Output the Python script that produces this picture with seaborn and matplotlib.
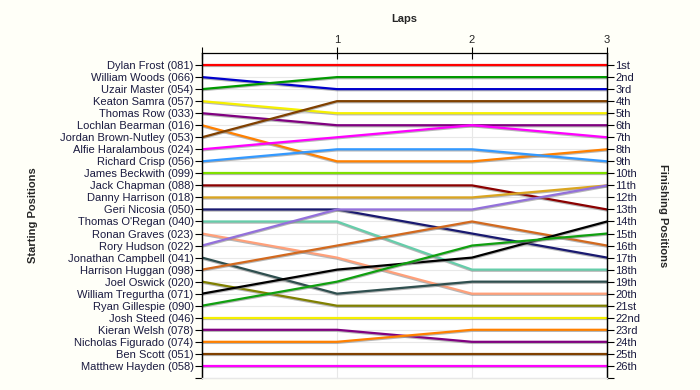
import pandas as pd
import numpy as np
import matplotlib
matplotlib.use("Agg")
import matplotlib.pyplot as plt
import matplotlib.patheffects as pe
import seaborn as sns

# drivers in starting order
drivers = ["Dylan Frost (081)", "William Woods (066)", "Uzair Master (054)",
           "Keaton Samra (057)", "Thomas Row (033)", "Lochlan Bearman (016)",
           "Jordan Brown-Nutley (053)", "Alfie Haralambous (024)", "Richard Crisp (056)",
           "James Beckwith (099)", "Jack Chapman (088)", "Danny Harrison (018)",
           "Geri Nicosia (050)", "Thomas O'Regan (040)", "Ronan Graves (023)",
           "Rory Hudson (022)", "Jonathan Campbell (041)", "Harrison Huggan (098)",
           "Joel Oswick (020)", "William Tregurtha (071)", "Ryan Gillespie (090)",
           "Josh Steed (046)", "Kieran Welsh (078)", "Nicholas Figurado (074)",
           "Ben Scott (051)", "Matthew Hayden (058)"]

laps = [0, 1, 2, 3]

# position of each driver at lap 0..3
positions = [
    [1, 1, 1, 1], [2, 3, 3, 3], [3, 2, 2, 2], [4, 5, 5, 5], [5, 6, 6, 6],
    [6, 9, 9, 8], [7, 4, 4, 4], [8, 7, 6, 7], [9, 8, 8, 9], [10, 10, 10, 10],
    [11, 11, 11, 13], [12, 12, 12, 11], [13, 13, 15, 17], [14, 14, 18, 18],
    [15, 17, 20, 20], [16, 13, 13, 11], [17, 20, 19, 19], [18, 16, 14, 16],
    [19, 21, 21, 21], [20, 18, 17, 14], [21, 19, 16, 15], [22, 22, 22, 22],
    [23, 23, 24, 24], [24, 24, 23, 23], [25, 25, 25, 25], [26, 26, 26, 26],
]

colors = ["#FF0000", "#0000CC", "#009900", "#F5F000", "#800080", "#FF8000",
          "#804000", "#FF00FF", "#3399FF", "#80E000", "#8B0000", "#DAA520",
          "#191970", "#66CDAA", "#FFA07A", "#9370DB", "#2F4F4F", "#D2691E",
          "#808000", "#000000", "#10A010", "#F5F000", "#800080", "#FF8000",
          "#804000", "#FF00FF"]

finish_labels = ["1st", "2nd", "3rd"] + [f"{i}th" for i in range(4, 21)] + \
                ["21st", "22nd", "23rd", "24th", "25th", "26th"]

rows = []
for d, pos in zip(drivers, positions):
    for lap, p in zip(laps, pos):
        rows.append({"driver": d, "lap": lap, "pos": p})
df = pd.DataFrame(rows)

sns.set_theme(style="white")
plt.rcParams['font.family'] = ['Liberation Sans', 'DejaVu Sans']

fig = plt.figure(figsize=(7, 3.9), dpi=100, facecolor="#FFFFF8")
ax = fig.add_axes([0.2886, 0.031, 0.5786, 0.833])
ax.set_facecolor("white")

# grid
for p in range(1, 27):
    ax.axhline(p, color="#E8E8E8", lw=0.8, zorder=0)
for lap in laps[1:3]:
    ax.axvline(lap, color="#E8E8E8", lw=0.8, zorder=0)

sns.lineplot(data=df, x="lap", y="pos", hue="driver", hue_order=drivers,
             palette=dict(zip(drivers, colors)), legend=False, linewidth=1.6,
             sort=False, estimator=None, ax=ax)
for ln in ax.get_lines()[-len(drivers):]:
    ln.set_path_effects([pe.SimpleLineShadow(offset=(0, -0.8), shadow_color="#888888", alpha=0.6),
                         pe.Normal()])

ax.set_xlim(0, 3)
ax.set_ylim(27, 0)

# left: starting positions
ax.set_yticks(range(1, 27))
ax.set_yticklabels(drivers, fontsize=8, color="#1a1a40")
ax.set_yticks([27], minor=True)
ax.tick_params(axis="y", which="both", direction="out", length=5, width=0.8,
               color="black", pad=1, left=True)
ax.set_ylabel("Starting Positions", fontsize=8, fontweight="bold", labelpad=16)

# right: finishing positions
ax2 = ax.twinx()
ax2.set_ylim(27, 0)
ax2.set_yticks(range(1, 27))
ax2.set_yticklabels(finish_labels, fontsize=8, color="#1a1a40")
ax2.set_yticks([27], minor=True)
ax2.tick_params(axis="y", which="both", direction="out", length=5, width=0.8,
                color="black", pad=1, right=True)
ax2.set_ylabel("Finishing Positions", fontsize=8, fontweight="bold",
               rotation=270, labelpad=20)

# top: laps
ax.xaxis.tick_top()
ax.xaxis.set_label_position("top")
ax.set_xticks(laps)
ax.set_xticklabels([""] + [str(l) for l in laps[1:]], fontsize=8)
ax.tick_params(axis="x", direction="inout", length=8, width=0.8, color="black", pad=2, top=True)
ax.set_xlabel("Laps", fontsize=8, fontweight="bold", labelpad=9)

for a in (ax, ax2):
    a.spines["bottom"].set_color("#E8E8E8")
    a.spines["left"].set_color("black")
    a.spines["right"].set_color("black")
    a.spines["top"].set_color("black")
    for s in a.spines.values():
        s.set_linewidth(0.9)
ax2.spines["top"].set_visible(False)

fig.savefig("out.png", dpi=100, facecolor=fig.get_facecolor())
